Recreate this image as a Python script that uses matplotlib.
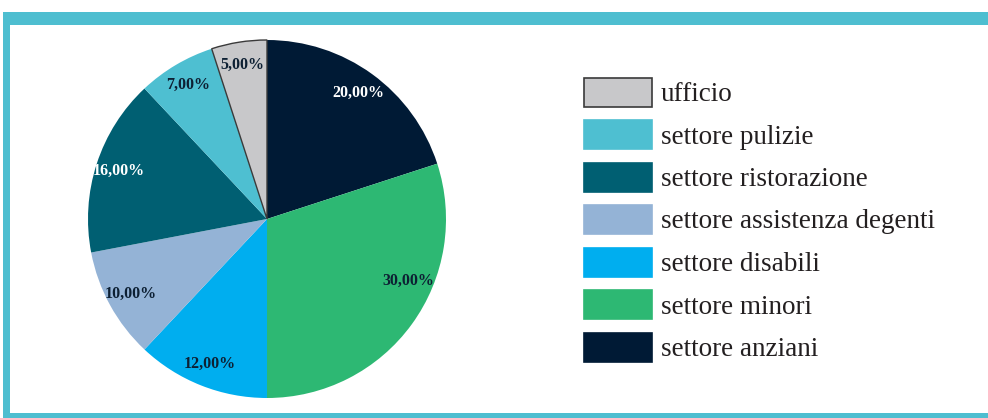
import matplotlib.pyplot as plt
from matplotlib.patches import Rectangle
import numpy as np

# Data (clockwise from 12 o'clock)
categories = ['settore anziani', 'settore minori', 'settore disabili',
              'settore assistenza degenti', 'settore ristorazione',
              'settore pulizie', 'ufficio']
values = [20, 30, 12, 10, 16, 7, 5]
colors = ['#001a35', '#2db873', '#00aeef', '#94b3d6', '#005f72', '#4ebfd1', '#c8c8ca']
label_colors = ['white', '#0d2033', '#0d2033', '#0d2033', 'white', '#0d2033', '#0d2033']

W, H = 988, 418
fig = plt.figure(figsize=(W / 100, H / 100), dpi=100)
fig.patch.set_facecolor('white')

# Background axes in pixel coordinates for the frame and legend
bg = fig.add_axes([0, 0, 1, 1])
bg.set_xlim(0, W)
bg.set_ylim(H, 0)
bg.axis('off')

frame = '#4ebed0'
bg.add_patch(Rectangle((3, 12), W, 13, color=frame, lw=0))   # top band
bg.add_patch(Rectangle((3, 12), 7, H, color=frame, lw=0))    # left band
bg.add_patch(Rectangle((3, 413), W, 10, color=frame, lw=0))  # bottom band

# Pie
cx, cy, r = 267, 219, 179
ax = fig.add_axes([(cx - r) / W, (H - cy - r) / H, 2 * r / W, 2 * r / H])
ax.set_aspect('equal')
wedges, texts = ax.pie(values, colors=colors, startangle=90, counterclock=False,
                       radius=1, wedgeprops=dict(linewidth=0))
wedges[-1].set_edgecolor('#3a3a3a')
wedges[-1].set_linewidth(1.0)

total = sum(values)
cum = 0
for v, lc in zip(values, label_colors):
    ang = 90 - (cum + v / 2) / total * 360
    cum += v
    rr = 0.87
    if v == 30:  # this label sits off-centre in the original
        ang, rr = -23.5, 0.86
    a = np.deg2rad(ang)
    ax.text(rr * np.cos(a), rr * np.sin(a), f'{v:.2f}%'.replace('.', ','),
            ha='center', va='center', color=lc, fontsize=11.5, fontweight='bold',
            family='Liberation Serif')
ax.set_xlim(-1, 1)
ax.set_ylim(-1, 1)
ax.axis('off')

# Legend (reverse order, drawn as boxes + text)
y0, pitch = 92, 42.5
for i, (name, col) in enumerate(zip(categories[::-1], colors[::-1])):
    yc = y0 + i * pitch
    edge = '#3a3a3a' if name == 'ufficio' else col
    bg.add_patch(Rectangle((584, yc - 14.5), 68, 29, facecolor=col,
                           edgecolor=edge, lw=1.2))
    bg.text(661, yc + 9, name, ha='left', va='baseline', fontsize=19.5,
            family='Liberation Serif', color='#231f20')

fig.savefig('out.png', dpi=100)
